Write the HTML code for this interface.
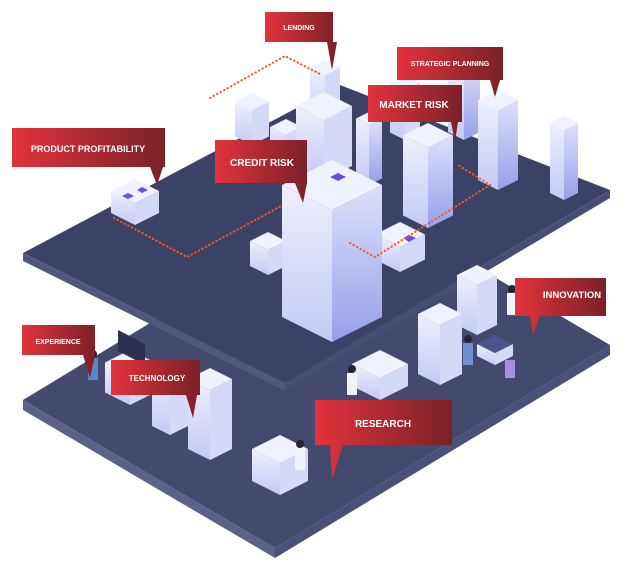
<!DOCTYPE html>
<html><head><meta charset="utf-8"><style>
html,body{margin:0;padding:0;background:#fff;width:637px;height:563px;overflow:hidden}
svg{display:block}
.lb{font-family:"Liberation Sans",sans-serif;font-weight:bold;fill:#fff}
</style></head><body>
<svg id="s" width="637" height="563" viewBox="0 0 637 563" xmlns="http://www.w3.org/2000/svg">
<defs>
<linearGradient id="rg" x1="0" y1="0" x2="1" y2="0"><stop offset="0" stop-color="#e3323d"/><stop offset="1" stop-color="#7a2127"/></linearGradient>
<linearGradient id="lf" x1="0" y1="0" x2="0" y2="1"><stop offset="0" stop-color="#eef0fe"/><stop offset="1" stop-color="#c3c9f4"/></linearGradient>
<linearGradient id="rf" x1="0" y1="0" x2="0" y2="1"><stop offset="0" stop-color="#dde1fb"/><stop offset="1" stop-color="#959fe8"/></linearGradient>
</defs>
<!-- lower platform -->
<polygon points="23,400 358,197 610,345 275,548" fill="#434a6e"/>
<polygon points="23,400 275,548 275,558 23,410" fill="#5b6288"/>
<polygon points="275,548 610,345 610,355 275,558" fill="#4a5178"/>
<!-- upper platform -->
<polygon points="23,253 340,85 610,190 285,383" fill="#3c4266"/>
<polygon points="23,253 285,383 285,391 23,261" fill="#50577d"/>
<polygon points="285,383 610,190 610,198 285,391" fill="#474e74"/>
<g id="b"></g>
<!-- dotted lines -->
<g fill="none" stroke="#f05a28" stroke-width="2" stroke-dasharray="0.5 3.5" stroke-linecap="round">
<polyline points="210,98 285,56 320,74"/>
<polyline points="114,218 187,257 283,205"/>
<polyline points="350,243 375,257 490,185 458,165"/>
</g>
<g id="f"></g>
<!-- labels -->
<g>
<path d="M265,12H333V42H337L332,70L327,42H265Z" fill="url(#rg)"/><text class="lb" x="299" y="30" font-size="7" text-anchor="middle">LENDING</text>
<path d="M397,47H503V80L500,80L495,97L490,80H397Z" fill="url(#rg)"/><text class="lb" x="450" y="66" font-size="7" text-anchor="middle">STRATEGIC PLANNING</text>
<path d="M368,85H462V122L458,122L455,142L451,122H368Z" fill="url(#rg)"/><text class="lb" x="414" y="108" font-size="10" text-anchor="middle">MARKET RISK</text>
<path d="M12,128H165V167L163,167L157,185L150,167H12Z" fill="url(#rg)"/><text class="lb" x="88" y="152" font-size="9" text-anchor="middle">PRODUCT PROFITABILITY</text>
<path d="M215,140H307V183L307,183L303,203L295,183H215Z" fill="url(#rg)"/><text class="lb" x="262" y="166" font-size="10" text-anchor="middle">CREDIT RISK</text>
<path d="M515,278H606V316H540L533,335L530,316H515Z" fill="url(#rg)"/><text class="lb" x="572" y="298" font-size="9.5" text-anchor="middle">INNOVATION</text>
<path d="M22,325H95V355L95,355L90,378L83,355H22Z" fill="url(#rg)"/><text class="lb" x="58" y="344" font-size="7" text-anchor="middle">EXPERIENCE</text>
<path d="M111,360H200V395L197,395L193,418L186,395H111Z" fill="url(#rg)"/><text class="lb" x="157" y="381" font-size="8" text-anchor="middle">TECHNOLOGY</text>
<path d="M315,400H452V445H343L332,480L330,445H315Z" fill="url(#rg)"/><text class="lb" x="383" y="427" font-size="10" text-anchor="middle">RESEARCH</text>
</g>
</svg>
<script>
var NS="http://www.w3.org/2000/svg";
function P(g,pts,fill){var p=document.createElementNS(NS,"polygon");p.setAttribute("points",pts.map(function(a){return a.join(",")}).join(" "));p.setAttribute("fill",fill);g.appendChild(p);}
function box(g,cx,yb,w,h,dark,top){var t=yb-h;
P(g,[[cx-w,t-w/2],[cx,t],[cx,yb],[cx-w,yb-w/2]],"url(#lf)");
P(g,[[cx,t],[cx+w,t-w/2],[cx+w,yb-w/2],[cx,yb]],dark?"url(#rf)":"#d4d9f8");
P(g,[[cx-w,t-w/2],[cx,t-w],[cx+w,t-w/2],[cx,t]],top||"#f1f2ff");}
var b=document.getElementById("b");
box(b,325,130,15,55);
box(b,405,140,15,50);
box(b,252,145,17,35);
box(b,286,150,16,15);
box(b,464,140,16,70,1);
box(b,369,185,13,60,1);
box(b,324,180,28,60);
box(b,498,190,20,80,1);
box(b,564,200,14,70,1);
box(b,428,228,25,80,1);
box(b,135,225,24,22);
box(b,268,275,18,25);
box(b,400,272,25,25);
box(b,332,342,50,132,1);
P(b,[[330,177],[338,173],[346,177],[338,181]],"#6a4ee0");
P(b,[[403,238],[409,235],[416,238],[409,242]],"#6a4ee0");
P(b,[[122,196],[128,193],[134,196],[128,199]],"#6a4ee0");
P(b,[[137,190],[142,187],[148,190],[142,193]],"#6a4ee0");
var f=document.getElementById("f");
box(f,130,405,25,30);
P(f,[[118,330],[145,344],[145,365],[118,351]],"#2b2f52");
box(f,170,435,18,55);
box(f,210,460,22,70);
box(f,380,400,28,22);
box(f,477,335,20,50);
box(f,440,385,22,60);
box(f,495,365,18,12,0,"#4a5590");
box(f,280,495,28,32);
var pp=[[93,380,"#5a87c8"],[300,470,"#f2f3f8"],[352,395,"#f2f3f8"],[468,365,"#6f8fd0"],[512,315,"#f2f3f8"]];
pp.forEach(function(q){P(f,[[q[0]-5,q[1]-22],[q[0]+5,q[1]-22],[q[0]+5,q[1]],[q[0]-5,q[1]]],q[2]);
var c=document.createElementNS(NS,"circle");c.setAttribute("cx",q[0]);c.setAttribute("cy",q[1]-26);c.setAttribute("r",4);c.setAttribute("fill","#2a2030");f.appendChild(c);});
P(f,[[505,360],[515,360],[515,378],[505,378]],"#a88fe0");
</script>
</body></html>
